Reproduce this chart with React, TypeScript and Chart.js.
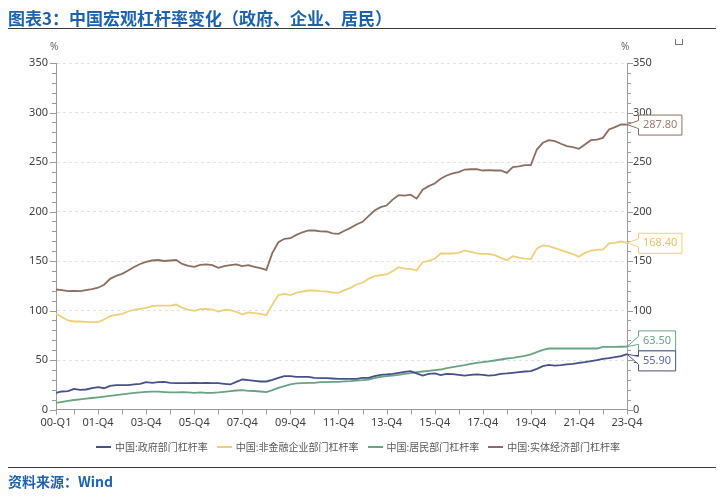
import React, { useEffect, useRef } from "react";
import { Chart, registerables } from "chart.js";

Chart.register(...registerables);

// Categories: quarters 2000-Q1 .. 2023-Q4
const quarters: string[] = [];
for (let y = 0; y <= 23; y++) {
  for (let q = 1; q <= 4; q++) quarters.push(`${String(y).padStart(2, "0")}-Q${q}`);
}

const govLeverage = [
  16.8, 18.2, 18.5, 20.9, 19.9, 20.2, 21.5, 22.6, 21.5, 23.9, 24.6, 24.6, 24.6, 25.3, 25.9, 27.6, 26.9, 27.6, 27.9, 26.9, 26.6, 26.6, 26.6, 26.9, 26.6,
  26.9, 26.6, 26.6, 25.9, 25.3, 27.9, 30.3, 29.6, 29.0, 28.3, 28.3, 30.0, 32.0, 33.7, 33.7, 33.0, 33.0, 33.0, 32.0, 31.6, 31.6, 31.3, 31.0,
  31.0, 31.0, 31.0, 32.0, 32.0, 33.7, 35.0, 35.4, 36.0, 37.0, 38.0, 38.7, 36.4, 34.3, 36.0, 36.4, 34.7, 36.0, 35.7, 35.0, 34.3, 35.0, 35.4, 35.0, 34.3,
  34.7, 36.0, 36.4, 37.0, 37.7, 38.4, 38.7, 41.0, 43.8, 45.1, 44.4, 44.8, 45.5, 46.1, 47.1, 47.8, 48.8, 49.8, 51.2, 51.9, 52.9, 53.9, 55.9,
];

const corpLeverage = [
  96.6, 93.3, 89.9, 88.9, 88.9, 88.6, 88.2, 88.2, 90.9, 94.3, 95.6, 96.6, 99.0, 100.7, 101.7, 102.7, 104.4, 105.0, 105.0, 105.0, 106.0, 102.7, 101.0, 99.7, 101.3,
  101.7, 101.0, 99.0, 100.7, 100.3, 98.7, 96.0, 98.0, 97.3, 96.6, 95.3, 106.0, 115.5, 116.8, 115.5, 117.8, 119.2, 120.2, 120.2, 119.5, 119.2, 118.2, 117.8,
  120.5, 122.9, 126.3, 128.0, 132.0, 134.7, 135.7, 136.4, 139.7, 143.8, 142.4, 142.1, 140.4, 148.8, 150.2, 152.2, 157.6, 157.6, 157.6, 158.2, 160.6, 159.3, 157.6, 157.2, 157.2,
  155.9, 153.2, 150.8, 154.9, 153.5, 152.5, 151.9, 162.6, 165.7, 165.0, 163.0, 161.0, 158.9, 156.9, 154.2, 158.2, 160.6, 161.3, 161.6, 167.7, 168.4, 169.7, 168.4,
];

const householdLeverage = [
  6.7, 7.8, 8.8, 9.6, 10.3, 11.0, 11.6, 12.3, 13.0, 13.8, 14.5, 15.3, 16.0, 16.8, 17.4, 17.9, 18.0, 18.0, 17.6, 17.3, 17.2, 17.4, 17.2, 16.8, 17.2,
  16.8, 16.8, 17.2, 17.8, 18.5, 19.2, 19.5, 18.9, 18.7, 18.2, 17.5, 19.5, 21.9, 23.6, 25.3, 26.3, 26.6, 26.9, 26.9, 27.6, 27.6, 27.9, 27.9,
  28.4, 28.6, 29.3, 29.6, 30.3, 31.6, 33.0, 33.7, 34.3, 35.0, 36.0, 36.7, 37.7, 38.4, 39.0, 39.7, 40.4, 41.8, 42.8, 43.8, 44.8, 46.1, 47.1, 47.8, 48.6,
  49.5, 50.5, 51.5, 52.2, 53.2, 54.2, 55.6, 57.9, 60.3, 61.6, 61.6, 61.6, 61.6, 61.6, 61.6, 61.6, 61.6, 61.6, 63.3, 63.3, 63.3, 63.4, 63.5,
];

const realEconomyLeverage = [
  121.2, 120.5, 119.5, 119.8, 119.5, 120.5, 121.5, 123.0, 126.0, 132.0, 135.0, 137.0, 140.5, 144.0, 147.0, 149.0, 150.5, 151.0, 150.0, 150.5, 151.0, 147.0, 145.0, 144.0, 146.0,
  146.5, 145.8, 143.1, 144.8, 145.8, 146.5, 144.8, 145.8, 144.1, 142.8, 141.1, 158.2, 169.0, 172.4, 173.0, 176.4, 179.0, 180.8, 180.8, 180.0, 179.8, 178.0, 177.4,
  180.5, 183.5, 186.9, 189.6, 195.3, 201.0, 204.4, 206.0, 212.0, 216.5, 216.0, 217.0, 213.0, 222.0, 225.6, 228.3, 233.0, 236.4, 238.4, 239.7, 242.4, 242.7, 242.7, 241.4, 241.8,
  241.4, 241.4, 239.0, 244.8, 245.6, 246.8, 246.8, 262.6, 269.4, 272.0, 271.0, 268.4, 266.0, 265.0, 263.3, 267.7, 272.0, 272.7, 274.4, 282.8, 285.2, 287.9, 287.8,
];

const seriesNames = ["中国:政府部门杠杆率", "中国:非金融企业部门杠杆率", "中国:居民部门杠杆率", "中国:实体经济部门杠杆率"];
const seriesColors = ["#46518b", "#efd07a", "#67a483", "#8c6e60"];
const labelTextColors = ["#5d6690", "#e3c462", "#6aa386", "#9a7d6f"];
const endLabels = ["55.90", "168.40", "63.50", "287.80"];

const yTickValues: number[] = [];
for (let v = 0; v <= 350; v += 10) yTickValues.push(v);

const FONT = '"Noto Sans", "Noto Sans CJK SC", sans-serif';

const tickPlugin = {
  id: "customTicks",
  afterDraw(chart: any) {
    const { ctx, chartArea: a, scales } = chart;
    ctx.save();
    ctx.strokeStyle = "#9a9a9a";
    ctx.lineWidth = 1;
    ctx.beginPath();
    for (const v of yTickValues) {
      const y = Math.round(scales.y.getPixelForValue(v)) + 0.5;
      const len = v % 50 === 0 ? 6 : 4;
      ctx.moveTo(a.left - len, y);
      ctx.lineTo(a.left, y);
      ctx.moveTo(a.right, y);
      ctx.lineTo(a.right + len, y);
    }
    for (let i = 0; i < quarters.length; i++) {
      if (i === 0 || i % 4 === 3) {
        const x = Math.round(scales.x.getPixelForValue(i)) + 0.5;
        ctx.moveTo(x, a.bottom);
        ctx.lineTo(x, a.bottom + 5);
      }
    }
    ctx.stroke();
    ctx.restore();
  },
};

const calloutPlugin = {
  id: "callouts",
  afterDraw(chart: any) {
    const { ctx, chartArea: area } = chart;
    const h = 20;
    const items = chart.data.datasets.map((ds: any, i: number) => {
      const meta = chart.getDatasetMeta(i);
      const pt = meta.data[meta.data.length - 1];
      return { i, x: pt.x, y: pt.y, cy: pt.y };
    });
    items.sort((a: any, b: any) => a.y - b.y);
    for (let iter = 0; iter < 30; iter++) {
      for (let k = 0; k < items.length - 1; k++) {
        const a = items[k];
        const b = items[k + 1];
        const overlap = h - (b.cy - a.cy);
        if (overlap > 0) {
          a.cy -= overlap / 2;
          b.cy += overlap / 2;
        }
      }
    }
    ctx.save();
    ctx.font = `11px ${FONT}`;
    for (const it of items) {
      const text = endLabels[it.i];
      const w = ctx.measureText(text).width + 9;
      const x0 = area.right + 11;
      const x1 = x0 + w;
      const y0 = it.cy - h / 2;
      const y1 = it.cy + h / 2;
      ctx.beginPath();
      ctx.moveTo(x0 + 0.5, y0 + 0.5);
      ctx.lineTo(x1 + 0.5, y0 + 0.5);
      ctx.lineTo(x1 + 0.5, y1 + 0.5);
      ctx.lineTo(x0 + 0.5, y1 + 0.5);
      ctx.lineTo(x0 + 0.5, it.cy + 4);
      ctx.lineTo(it.x, it.y);
      ctx.lineTo(x0 + 0.5, it.cy - 4);
      ctx.closePath();
      ctx.fillStyle = "#ffffff";
      ctx.fill();
      ctx.strokeStyle = seriesColors[it.i];
      ctx.lineWidth = 1;
      ctx.stroke();
      ctx.fillStyle = labelTextColors[it.i];
      ctx.textAlign = "left";
      ctx.textBaseline = "middle";
      ctx.fillText(text, x0 + 5, it.cy + 0.5);
    }
    ctx.restore();
  },
};

export default function App() {
  const canvasRef = useRef<HTMLCanvasElement | null>(null);

  useEffect(() => {
    if (!canvasRef.current) return;
    Chart.defaults.font.family = FONT;
    const data = [govLeverage, corpLeverage, householdLeverage, realEconomyLeverage];
    const chart = new Chart(canvasRef.current, {
      type: "line",
      data: {
        labels: quarters,
        datasets: data.map((d, i) => ({
          label: seriesNames[i],
          data: d,
          borderColor: seriesColors[i],
          backgroundColor: seriesColors[i],
          borderWidth: 1.8,
          pointRadius: 0,
          tension: 0,
          fill: false,
        })),
      },
      options: {
        animation: false,
        responsive: false,
        devicePixelRatio: 1,
        layout: { padding: { top: 63, left: 0, right: 0, bottom: 65.5 } },
        plugins: {
          legend: { display: false },
          tooltip: { enabled: false },
          title: { display: false },
        },
        scales: {
          x: {
            type: "category",
            offset: false,
            grid: { display: true, drawOnChartArea: false, drawTicks: false },
            border: { display: true, color: "#9a9a9a" },
            ticks: {
              autoSkip: false,
              maxRotation: 0,
              minRotation: 0,
              padding: 7,
              color: "#404040",
              font: { size: 11 },
              callback: (_v: any, idx: number) => (idx === 0 || idx % 8 === 7 ? quarters[idx] : ""),
            },
            afterFit: (s: any) => {
              s.height = 25;
            },
          },
          y: {
            position: "left",
            min: 0,
            max: 350,
            grid: {
              drawTicks: false,
              color: (c: any) => (c.tick && c.tick.value % 50 === 0 && c.tick.value !== 0 ? "#e2e2e2" : "rgba(0,0,0,0)"),
              lineWidth: 1,
            },
            border: { display: true, color: "#9a9a9a", dash: [3, 3] },
            ticks: {
              stepSize: 10,
              autoSkip: false,
              padding: 8,
              color: "#404040",
              font: { size: 11 },
              callback: (v: any) => (Number(v) % 50 === 0 ? String(v) : ""),
            },
            afterFit: (s: any) => {
              s.width = 56;
            },
          },
          y2: {
            position: "right",
            min: 0,
            max: 350,
            grid: { drawOnChartArea: false, drawTicks: false },
            border: { display: true, color: "#9a9a9a" },
            ticks: {
              stepSize: 10,
              autoSkip: false,
              padding: 6,
              color: "#404040",
              font: { size: 11 },
              callback: (v: any) => (Number(v) % 50 === 0 ? String(v) : ""),
            },
            afterFit: (s: any) => {
              s.width = 99;
            },
          },
        },
      },
      plugins: [tickPlugin, calloutPlugin],
    } as any);
    return () => chart.destroy();
  }, []);

  const cjk = '"Noto Sans CJK SC", "Noto Sans", sans-serif';

  return (
    <div style={{ position: "absolute", left: 0, top: 0, width: 726, height: 500, background: "#fff", overflow: "hidden" }}>
      <canvas ref={canvasRef} width={726} height={500} style={{ position: "absolute", left: 0, top: 0, width: 726, height: 500 }} />
      <div
        style={{
          position: "absolute",
          left: 8,
          top: 7,
          fontFamily: cjk,
          fontWeight: 700,
          fontSize: 17,
          lineHeight: "22px",
          color: "#1d62ad",
          whiteSpace: "nowrap",
        }}
      >
        图表3：中国宏观杠杆率变化（政府、企业、居民）
      </div>
      <div style={{ position: "absolute", left: 8, top: 28, width: 708, height: 1, background: "#3c3c3c" }} />
      <div style={{ position: "absolute", left: 50, top: 39, fontFamily: FONT, fontSize: 10, color: "#666", lineHeight: "14px" }}>%</div>
      <div style={{ position: "absolute", left: 621, top: 39, fontFamily: FONT, fontSize: 10, color: "#666", lineHeight: "14px" }}>%</div>
      <div
        style={{
          position: "absolute",
          left: 675,
          top: 39,
          width: 6,
          height: 5,
          borderLeft: "1px solid #777",
          borderRight: "1px solid #777",
          borderBottom: "1px solid #777",
        }}
      />
      <div
        style={{
          position: "absolute",
          left: 96,
          top: 440,
          display: "flex",
          alignItems: "center",
          fontFamily: cjk,
          fontSize: 10,
          color: "#595959",
          whiteSpace: "nowrap",
          lineHeight: "14px",
        }}
      >
        {seriesNames.map((n, i) => (
          <div key={n} style={{ display: "flex", alignItems: "center", marginRight: 9 }}>
            <div style={{ width: 15, height: 2, background: seriesColors[i], marginRight: 4 }} />
            <span>{n}</span>
          </div>
        ))}
      </div>
      <div style={{ position: "absolute", left: 8, top: 467, width: 708, height: 1, background: "#3c3c3c" }} />
      <div
        style={{
          position: "absolute",
          left: 8,
          top: 471,
          fontFamily: cjk,
          fontWeight: 700,
          fontSize: 14,
          lineHeight: "20px",
          color: "#1d62ad",
          whiteSpace: "nowrap",
        }}
      >
        资料来源：Wind
      </div>
    </div>
  );
}
